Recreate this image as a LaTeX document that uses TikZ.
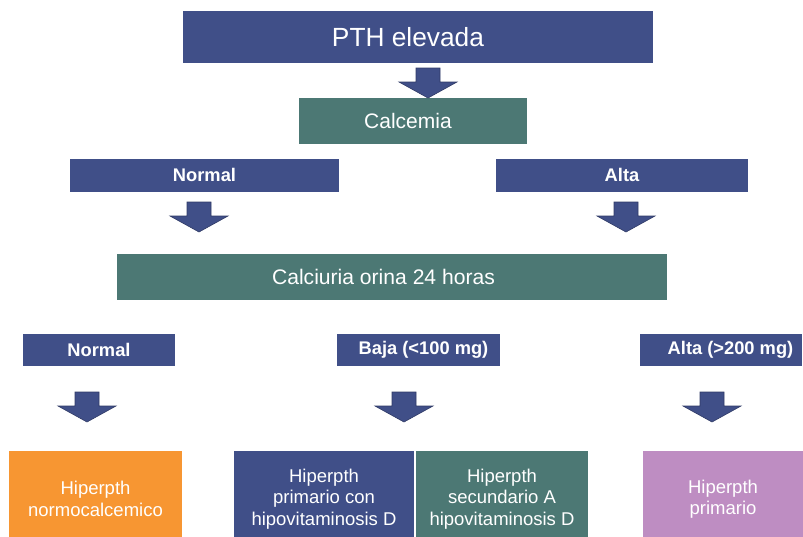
\documentclass[tikz,border=0pt]{standalone}
\usepackage{fontspec}
\setmainfont{Liberation Sans}
\definecolor{boxblue}{RGB}{64,79,136}
\definecolor{boxteal}{RGB}{76,120,116}
\definecolor{boxorange}{RGB}{247,150,50}
\definecolor{boxpink}{RGB}{190,141,194}
\tikzset{
  box/.style={fill=#1, text=white, inner sep=0pt, align=center},
  tag/.style={box=boxblue, minimum height=32pt, font=\fontsize{18.3}{21}\selectfont\bfseries},
  result/.style={box=#1, minimum height=96pt, font=\fontsize{18.5}{21.5}\selectfont},
}
\begin{document}
\begin{tikzpicture}[x=1pt,y=-1pt]
\useasboundingbox (0,0) rectangle (803,536);
\clip (0,0) rectangle (803,536);
% top
\node[box=boxblue, minimum width=470pt, minimum height=52pt, font=\fontsize{26.3}{30}\selectfont] (pth) at (418,37) {PTH elevada\kern20pt};
\node[box=boxteal, minimum width=228pt, minimum height=46pt, font=\fontsize{21}{25}\selectfont] (calcemia) at (413,121) {Calcemia\kern10pt};
\node[tag, minimum width=269pt, minimum height=33pt] (normalA) at (204.5,175) {Normal};
\node[tag, minimum width=252pt, minimum height=33pt] (altaA) at (622,175) {Alta};
\node[box=boxteal, minimum width=550pt, minimum height=46pt, font=\fontsize{21.1}{25}\selectfont] (calciuria) at (392,277) {Calciuria orina 24 horas\kern17pt};
% calciuria
\node[tag, minimum width=152pt] (normalB) at (99,350) {Normal};
\node[tag, minimum width=163pt] (baja) at (418.5,350) {\kern10pt Baja (<100 mg)};
\node[tag, minimum width=162pt] (altaB) at (721,350) {\kern19pt Alta (>200 mg)};
% results
\node[result=boxorange, minimum width=173pt] (normocalc) at (95.5,499) {Hiperpth\\normocalcemico};
\node[result=boxblue, minimum width=180pt] (primcon) at (324,499) {Hiperpth\\primario con\\hipovitaminosis D};
\node[result=boxteal, minimum width=172pt] (secund) at (502,499) {Hiperpth\\secundario A\\hipovitaminosis D};
\node[result=boxpink, minimum width=160pt] (primario) at (723,499) {Hiperpth\\primario};
% fat arrows
\foreach \x/\y in {428/98, 199/232, 626/232, 87/422, 404/422, 712/422} {
\draw[fill=boxblue, draw=boxblue!75!black, line width=0.6pt] (\x-12,\y-30) -- (\x+12,\y-30) -- (\x+12,\y-16) -- (\x+29,\y-16) -- (\x,\y) -- (\x-29,\y-16) -- (\x-12,\y-16) -- cycle;}
\end{tikzpicture}
\end{document}
